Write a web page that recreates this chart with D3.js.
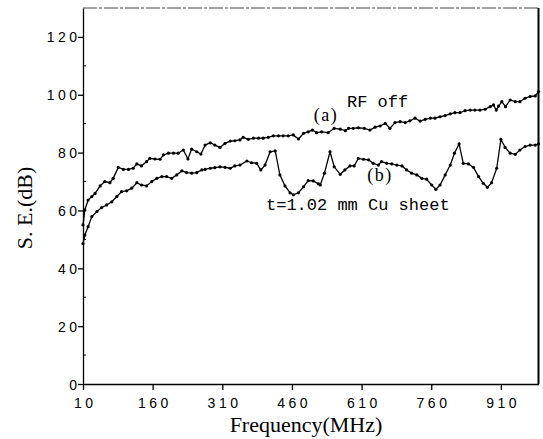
<!DOCTYPE html>
<html>
<head>
<meta charset="utf-8">
<script src="https://cdnjs.cloudflare.com/ajax/libs/d3/7.8.5/d3.min.js"></script>
<style>
    body { margin: 0; background: #fff; }
    svg { display: block; }
</style>
</head>
<body>
<svg id="chart" width="543" height="439"></svg>
<script>
/* eslint-env browser */

// (a) RF off
var freqA = [10, 14, 21, 29, 36, 47, 57, 68, 75, 86, 97, 108, 118, 126, 136, 147, 154, 165, 176, 183,
        194, 205, 215, 226, 236, 244, 255, 264, 273, 284, 294, 305, 316, 327, 337, 348, 355, 366, 377, 388,
        398, 409, 420, 431, 441, 452, 463, 474, 485, 495, 504, 513, 524, 538, 551, 564, 575, 582, 592, 603,
        616, 628, 639, 650, 661, 671, 682, 693, 704, 714, 725, 736, 747, 758, 768, 779, 790, 801, 811, 822,
        833, 844, 854, 865, 876, 887, 894, 900, 905, 912, 920, 930, 941, 951, 962, 973, 984, 991],
    valuesA = [55, 60.2, 63.6, 64.8, 65.9, 68.5, 70, 69.6, 71.1, 74.9, 74.2, 74.2, 74.6, 76.1, 75.4, 76.9, 78, 77.8, 77.7, 79.2,
        79.8, 79.8, 79.8, 80.9, 77.8, 81.2, 80.3, 79.5, 82.6, 83.4, 82.6, 81.8, 83.2, 84, 84.1, 84.4, 85.3, 84.6, 85, 85,
        85, 85.3, 85.8, 85.8, 85.8, 85.8, 86.1, 84.7, 86.7, 87.2, 87.8, 86.9, 87.2, 86.9, 88.4, 88.1, 87.6, 88.4, 88.4, 88.6,
        88.4, 87.8, 88.8, 89.2, 90.1, 88.4, 90.4, 90.7, 90.4, 91, 91.9, 90.9, 91.5, 91.9, 91.9, 92.4, 92.8, 93.4, 93.8, 93.8,
        94.5, 94.7, 94.7, 94.7, 95, 95.9, 96.5, 94.7, 96.1, 97.6, 95.9, 98.2, 97.6, 97.6, 98.8, 99.4, 99.6, 101.1];

// (b) t=1.02 mm Cu sheet
var freqB = [10, 14, 21, 29, 40, 50, 61, 72, 83, 93, 104, 115, 126, 136, 147, 158, 169, 180, 190, 201,
        212, 223, 233, 244, 255, 266, 273, 284, 294, 305, 316, 327, 337, 348, 363, 373, 384, 393, 402, 413,
        424, 434, 445, 456, 463, 474, 485, 495, 506, 517, 521, 530, 542, 551, 564, 574, 585, 594, 603, 614,
        625, 635, 646, 653, 664, 675, 686, 697, 707, 718, 729, 740, 750, 761, 770, 779, 790, 801, 810, 820,
        829, 840, 851, 862, 872, 881, 890, 901, 910, 919, 930, 941, 951, 962, 973, 984, 991],
    valuesB = [48.5, 51.5, 54.4, 57.9, 59.6, 61, 61.9, 63, 64.8, 66.5, 66.8, 67.7, 69.6, 68.8, 68.5, 70, 71.1, 71.7, 71.7, 71.1,
        72.3, 73.7, 73.1, 72.9, 73.1, 74, 74.2, 74.6, 74.8, 75.1, 74.9, 74.6, 75.4, 75.7, 77.1, 76.5, 76.3, 74, 75.7, 80.3,
        80.6, 72.3, 68.5, 66.1, 65.4, 66.1, 68.2, 70.3, 70.2, 69.2, 68.8, 72.9, 80.3, 75.1, 72.5, 74, 75.4, 75.4, 78, 77.7,
        77.5, 76.3, 75.7, 76.9, 76.3, 76.1, 75.7, 75.4, 74, 72.9, 72.3, 71.1, 70.8, 68.8, 67.3, 68.8, 72.3, 75.7, 79.8, 83,
        76.3, 76.1, 74.9, 71.7, 69.4, 68, 69.6, 74.6, 84.6, 81.8, 79.8, 79.4, 80.9, 82.1, 82.6, 82.6, 83];

var xTicks = [10, 160, 310, 460, 610, 760, 910],
    yTicks = [0, 20, 40, 60, 80, 100, 120],
    yMinorTicks = [10, 30, 50, 70, 90, 110];

var svg = d3.select("#chart"),
    plotLeft = 83,
    plotRight = 538.5,
    plotTop = 8,
    plotBottom = 384,
    x = d3.scaleLinear()
        .domain([10, 991])
        .range([plotLeft, plotRight]),
    y = d3.scaleLinear()
        .domain([0, 130])
        .range([plotBottom, plotTop]),
    tickFont = "'Liberation Sans', Arial, sans-serif",
    serifFont = "'Liberation Serif', 'Times New Roman', serif",
    monoFont = "'Liberation Mono', 'Courier New', monospace";

function toPoints(freq, values) {
    return freq.map(function (f, i) { return [f, values[i]]; });
}

// frame: top (faint, broken) and right border
svg.append("line")
    .attr("x1", plotLeft).attr("x2", plotRight)
    .attr("y1", plotTop).attr("y2", plotTop)
    .attr("stroke", "#444")
    .attr("stroke-width", 1)
    .attr("stroke-dasharray", "14,2,3,2");

svg.append("line")
    .attr("x1", plotRight).attr("x2", plotRight)
    .attr("y1", plotTop).attr("y2", plotBottom)
    .attr("stroke", "#000")
    .attr("stroke-width", 2);

// axes
var yAxis = svg.append("g")
    .attr("transform", "translate(" + plotLeft + ",0)")
    .call(d3.axisLeft(y).tickValues(yTicks).tickSize(5).tickSizeOuter(0));

yAxis.selectAll("text")
    .attr("x", -2.5)
    .attr("dy", "0.36em")
    .style("font-family", tickFont)
    .style("font-size", "14px")
    .style("letter-spacing", "3.5px")
    .attr("fill", "#000");

svg.append("g")
    .selectAll("line")
    .data(yMinorTicks)
    .enter().append("line")
    .attr("x1", plotLeft).attr("x2", plotLeft + 3)
    .attr("y1", function (d) { return y(d); })
    .attr("y2", function (d) { return y(d); })
    .attr("stroke", "#000")
    .attr("stroke-width", 1);

var xAxis = svg.append("g")
    .attr("transform", "translate(0," + plotBottom + ")")
    .call(d3.axisBottom(x).tickValues(xTicks).tickSize(6).tickSizeOuter(0));

xAxis.selectAll("text")
    .attr("y", 14)
    .attr("dx", "1.75px")
    .style("font-family", tickFont)
    .style("font-size", "14px")
    .style("letter-spacing", "3.5px")
    .attr("fill", "#000");

svg.selectAll(".domain, .tick line")
    .attr("stroke", "#000")
    .attr("stroke-width", 1.3);

// axis titles
svg.append("text")
    .attr("x", 306)
    .attr("y", 432)
    .attr("text-anchor", "middle")
    .style("font-family", serifFont)
    .style("font-size", "22px")
    .text("Frequency(MHz)");

svg.append("text")
    .attr("transform", "translate(32,208) rotate(-90)")
    .attr("text-anchor", "middle")
    .style("font-family", serifFont)
    .style("font-size", "22px")
    .text("S. E.(dB)");

// curves
var line = d3.line()
    .x(function (d) { return x(d[0]); })
    .y(function (d) { return y(d[1]); });

[toPoints(freqA, valuesA), toPoints(freqB, valuesB)].forEach(function (points) {
    svg.append("path")
        .datum(points)
        .attr("fill", "none")
        .attr("stroke", "#000")
        .attr("stroke-width", 1.3)
        .attr("d", line);

    svg.append("g")
        .selectAll("circle")
        .data(points)
        .enter().append("circle")
        .attr("cx", function (d) { return x(d[0]); })
        .attr("cy", function (d) { return y(d[1]); })
        .attr("r", 1.6)
        .attr("fill", "#000");
});

// annotations
svg.append("text")
    .attr("x", 347)
    .attr("y", 107)
    .style("font-family", monoFont)
    .style("font-size", "17px")
    .text("RF off");

svg.append("text")
    .attr("x", 326)
    .attr("y", 121)
    .attr("text-anchor", "middle")
    .style("font-family", serifFont)
    .style("font-size", "18px")
    .style("letter-spacing", "1.5px")
    .text("(a)");

svg.append("text")
    .attr("x", 380)
    .attr("y", 181)
    .attr("text-anchor", "middle")
    .style("font-family", serifFont)
    .style("font-size", "18px")
    .style("letter-spacing", "1.5px")
    .text("(b)");

svg.append("text")
    .attr("x", 266)
    .attr("y", 210)
    .style("font-family", monoFont)
    .style("font-size", "17px")
    .text("t=1.02 mm Cu sheet");
</script>
</body>
</html>
